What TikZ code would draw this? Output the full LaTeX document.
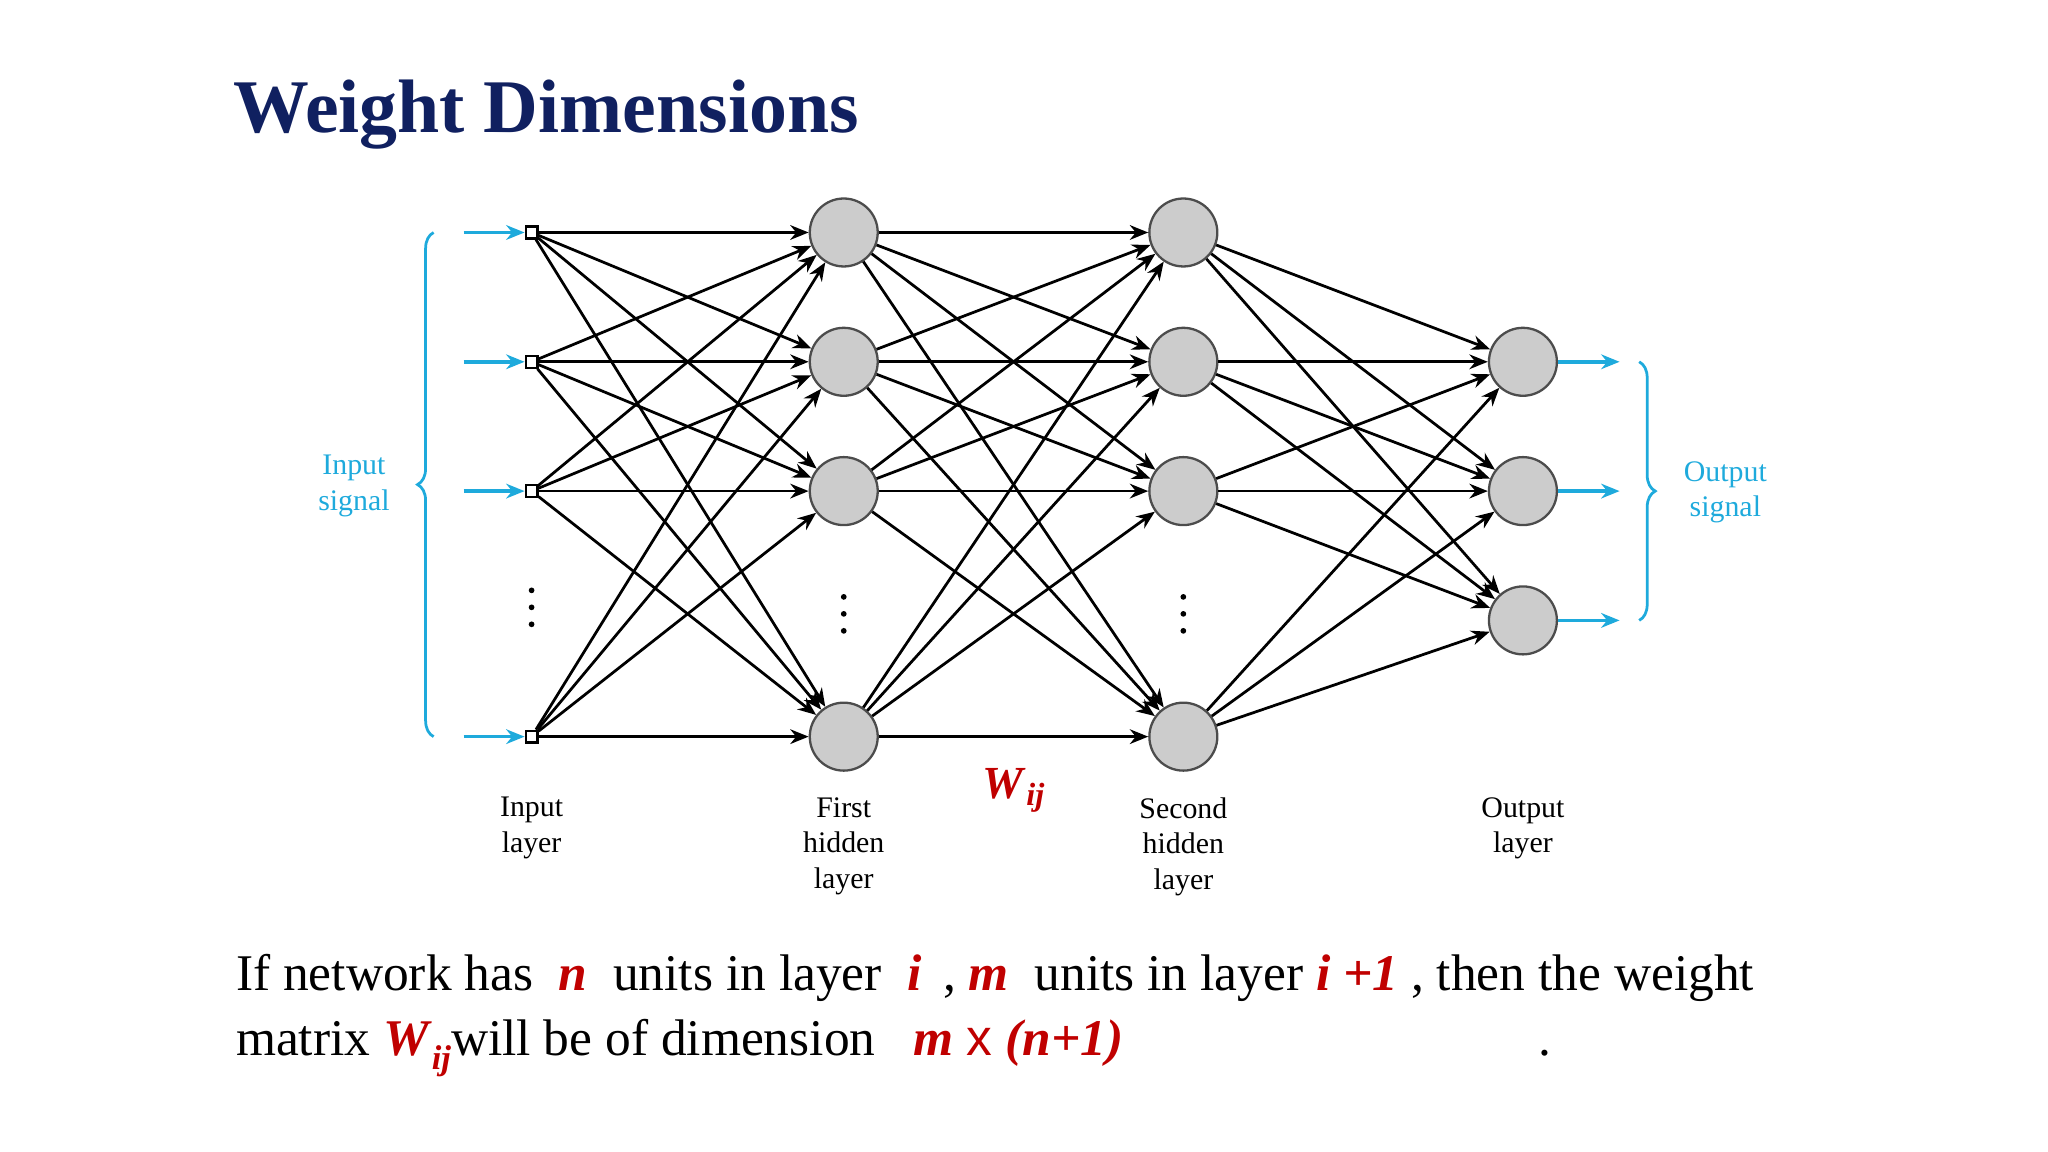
\documentclass[tikz,border=0pt]{standalone}
\usepackage{fontspec}
\setmainfont{Liberation Serif}
\usetikzlibrary{arrows.meta,decorations.pathreplacing}
\definecolor{navy}{RGB}{16,32,96}
\definecolor{sig}{RGB}{30,170,220}
\definecolor{wred}{RGB}{192,0,0}
\newcommand{\rr}[1]{\textcolor{wred}{\textbf{\textit{#1}}}}
\begin{document}
\begin{tikzpicture}[x=0.01cm,y=-0.01cm,
  neuron/.style={circle,draw=black!70,fill=black!20,line width=0.5pt,minimum size=0.52cm,inner sep=0pt},
  inp/.style={rectangle,draw=black,fill=white,line width=0.5pt,minimum size=0.09cm,inner sep=0pt},
  conn/.style={line width=0.6pt,-{Stealth[length=4pt,width=3.2pt]}},
  sigarr/.style={sig,line width=0.8pt,-{Stealth[length=4pt,width=3.2pt]}},
  lbl/.style={font=\fontsize{6.5}{7.8}\selectfont,align=center,anchor=north},
  slbl/.style={font=\fontsize{6.5}{7.8}\selectfont,align=center,text=sig}]
\useasboundingbox (0,0) rectangle (1568,882);
\node[anchor=west,inner sep=0pt,font=\fontsize{16.5}{18}\selectfont\bfseries,text=navy] (title) at (178,88) {Weight Dimensions};
% layers
\foreach \i/\y in {1/178,2/277,3/376,4/564}{
  \node[inp] (a\i) at (407,\y) {};
  \node[neuron] (b\i) at (646,\y) {};
  \node[neuron] (c\i) at (906,\y) {};
  \coordinate (s\i) at (355,\y);
  \draw[sigarr] (s\i) -- (a\i);
}
\foreach \k/\y in {1/277,2/376,3/475}{
  \node[neuron] (d\k) at (1166,\y) {};
  \coordinate (t\k) at (1240,\y);
  \draw[sigarr] (d\k) -- (t\k);
}
\foreach \i in {1,...,4}{\foreach \j in {1,...,4}{
  \draw[conn] (a\i) -- (b\j);
  \draw[conn] (b\i) -- (c\j);}
  \foreach \k in {1,2,3}{\draw[conn] (c\i) -- (d\k);}}
% dots
\foreach \x/\y in {407/465,646/470,906/470}{
  \fill (\x,\y-13) circle[radius=2.2];
  \fill (\x,\y) circle[radius=2.2];
  \fill (\x,\y+13) circle[radius=2.2];}
% braces
\coordinate (lb1) at (332,564); \coordinate (lb2) at (332,178);
\draw[sig,line width=0.6pt,decorate,decoration={brace,amplitude=3.5pt}] (lb1) -- (lb2);
\coordinate (rb1) at (1255,277); \coordinate (rb2) at (1255,475);
\draw[sig,line width=0.6pt,decorate,decoration={brace,amplitude=3.5pt}] (rb1) -- (rb2);
\node[slbl] (insig) at (271,372) {Input\\signal};
\node[slbl] (outsig) at (1321,377) {Output\\signal};
% layer labels
\node[lbl] (l1) at (407,598) {Input\\layer};
\node[lbl] (l2) at (646,598) {First\\hidden\\layer};
\node[lbl] (l3) at (906,598) {Second\\hidden\\layer};
\node[lbl] (l4) at (1166,598) {Output\\layer};
\node[font=\fontsize{10}{12}\selectfont] (w) at (777,605) {\rr{W}$_{\rr{\scriptsize ij}}$};
% bottom text
\node[anchor=base west,font=\fontsize{11.2}{14}\selectfont,inner sep=0pt] (t1) at (180,758)
 {If network has \ \rr{n} \ units in layer \ \rr{i} \,, \rr{m} \ units in layer \rr{i +1} , then the weight};
\node[anchor=base west,font=\fontsize{11.2}{14}\selectfont,inner sep=0pt] (t2) at (180,808)
 {matrix \rr{W}\textcolor{wred}{\raisebox{-0.6ex}{\fontsize{7.5}{8}\selectfont\bfseries\itshape ij}}will be of dimension \ \ \rr{m} \textcolor{wred}{\fontspec{Liberation Sans}x} \rr{(n+1)}};
\node[anchor=base,font=\fontsize{11.2}{14}\selectfont,inner sep=0pt] (pd) at (1183,808) {.};
\end{tikzpicture}
\end{document}
